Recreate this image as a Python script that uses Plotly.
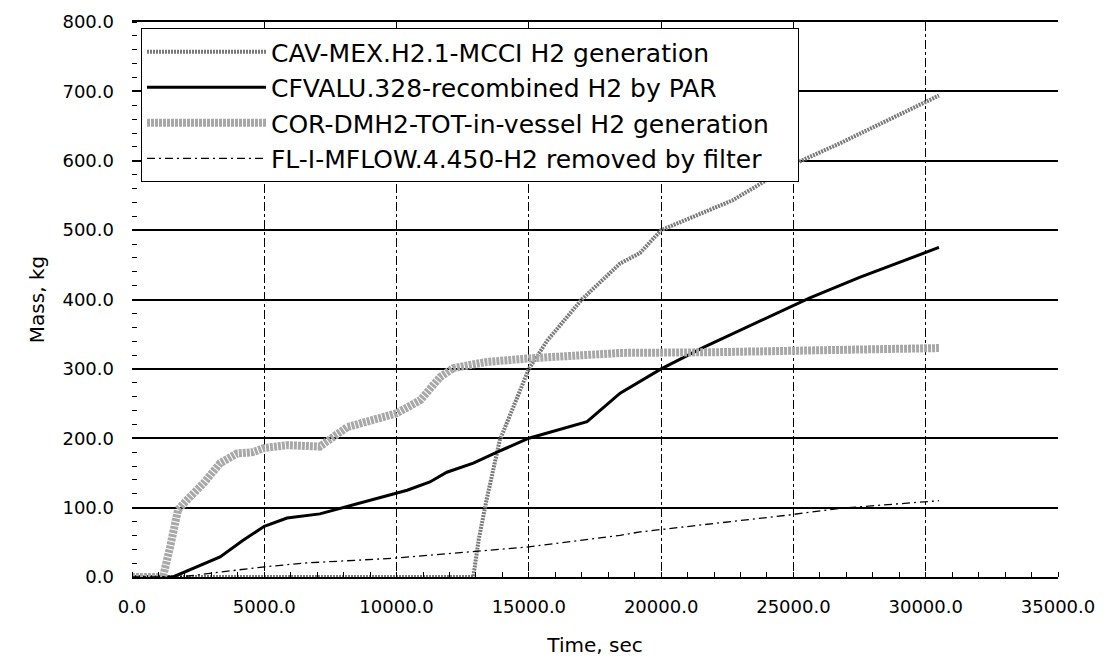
import plotly.graph_objects as go

# ---- data ----
time_cav = [0, 12900, 13100, 13400, 13900, 14550, 15000, 15700, 17000, 18450, 19200, 20000, 22700, 25000, 26750, 30500]
mass_cav = [0, 0, 53, 111, 197, 260, 300, 341, 400, 452, 467, 500, 543, 595, 625, 694]

time_par = [0, 1550, 3330, 4200, 5000, 5860, 7100, 8350, 10000, 10400, 11260, 11900, 12900, 13800, 15000, 17200, 18450, 20000, 21600, 25600, 27500, 30500]
mass_par = [0, 0, 29, 53, 73, 85, 91, 104, 121, 125, 137, 151, 164, 180, 200, 224, 265, 300, 331, 402, 432, 475]

time_cor = [0, 1170, 1440, 1740, 2080, 2700, 3330, 3970, 4570, 5000, 5860, 7100, 8130, 9100, 10000, 10900, 11640, 12140, 13400, 15000, 18450, 22000, 27000, 30500]
mass_cor = [0, 0, 43, 97, 111, 135, 164, 178, 180, 186, 190, 188, 216, 226, 236, 255, 288, 301, 310, 315, 323, 324, 327, 330]

time_fl = [0, 1800, 4840, 6460, 9860, 13040, 14900, 18450, 19200, 24750, 26750, 30500]
mass_fl = [0, 0, 14, 20, 27, 37, 43, 60, 65, 89, 99, 110]

names = [
    "CAV-MEX.H2.1-MCCI H2 generation",
    "CFVALU.328-recombined H2 by PAR",
    "COR-DMH2-TOT-in-vessel H2 generation",
    "FL-I-MFLOW.4.450-H2 removed by filter",
]

x_ticks = [0, 5000, 10000, 15000, 20000, 25000, 30000, 35000]
y_ticks = [0, 100, 200, 300, 400, 500, 600, 700, 800]

FONT = "DejaVu Sans, Arial, sans-serif"
PAD = "\u00a0\u00a0\u00a0"  # invisible right padding so the legend box is as wide as the original

fig = go.Figure()
fig.add_trace(go.Scatter(x=time_cav, y=mass_cav, mode="lines", name=names[0],
                         line=dict(color="#7a7a7a", width=4, dash="2px,1px")))
fig.add_trace(go.Scatter(x=time_par, y=mass_par, mode="lines", name=names[1],
                         line=dict(color="black", width=3)))
fig.add_trace(go.Scatter(x=time_cor, y=mass_cor, mode="lines", name=names[2] + PAD,
                         line=dict(color="#a8a8a8", width=8, dash="3px,1px")))
fig.add_trace(go.Scatter(x=time_fl, y=mass_fl, mode="lines", name=names[3],
                         line=dict(color="black", width=1.3, dash="8px,4px,2px,4px")))

fig.update_layout(
    width=1107, height=672,
    margin=dict(l=132, r=49, t=22, b=95),
    paper_bgcolor="white", plot_bgcolor="white",
    font=dict(family=FONT, color="black"),
    legend=dict(
        x=0.0097, y=0.989, xanchor="left", yanchor="top",
        bgcolor="white", bordercolor="black", borderwidth=1,
        font=dict(family=FONT, size=25, color="black"),
        itemwidth=119,
    ),
    xaxis=dict(
        range=[0, 35000], tickvals=x_ticks, tickformat=".1f",
        showgrid=True, gridcolor="black", gridwidth=1, griddash="dashdot",
        zeroline=False, showline=True, linecolor="black", linewidth=1.5, mirror=True,
        ticks="", ticklabelstandoff=13,
        tickfont=dict(size=18, family=FONT, color="black"),
        minor=dict(ticks="inside", ticklen=5, dtick=1000, tickcolor="black", showgrid=False),
        title=dict(text="Time, sec", font=dict(size=20, family=FONT, color="black"), standoff=22),
    ),
    yaxis=dict(
        range=[0, 800], tickvals=y_ticks, tickformat=".1f",
        showgrid=True, gridcolor="black", gridwidth=1.5,
        zeroline=False, showline=False,
        ticks="", ticklabelstandoff=17,
        tickfont=dict(size=18, family=FONT, color="black"),
        minor=dict(ticks="inside", ticklen=5, dtick=20, tickcolor="black", showgrid=False),
        title=dict(text="Mass, kg", font=dict(size=20, family=FONT, color="black"), standoff=12),
    ),
)

fig.write_html("out.html")
